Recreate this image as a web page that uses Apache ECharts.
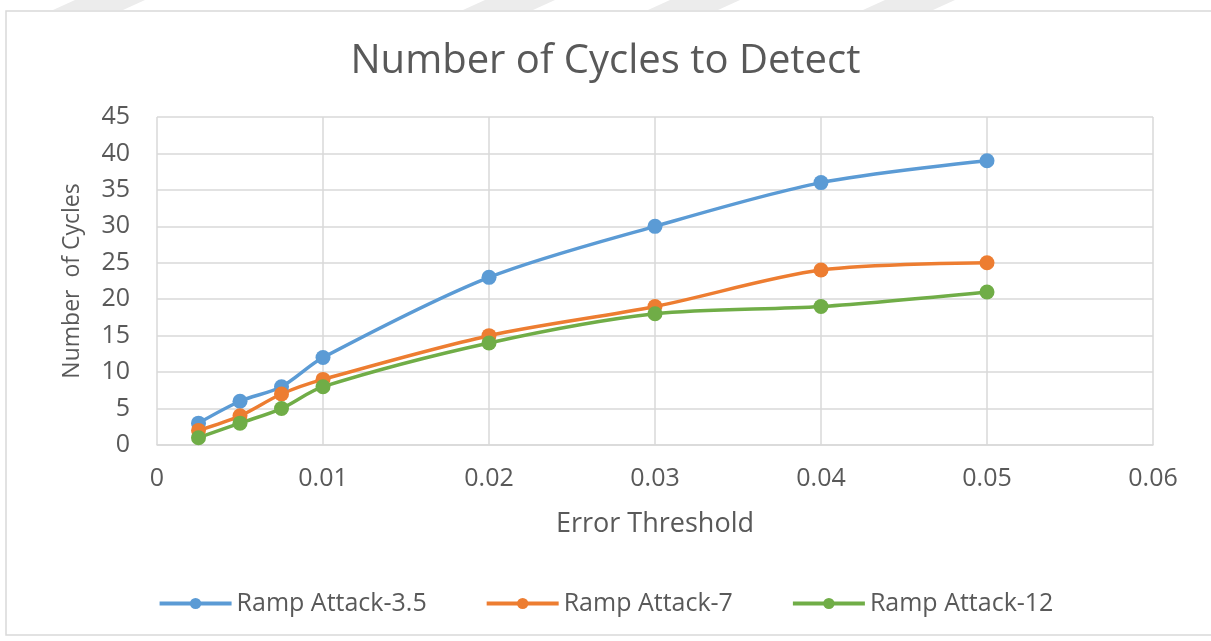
<!DOCTYPE html>
<html><head><meta charset="utf-8">
<script src="https://cdn.jsdelivr.net/npm/echarts@6/dist/echarts.min.js"></script>
<style>html,body{margin:0;padding:0;background:#fff}#c{width:1211px;height:641px}</style>
</head><body><div id="c"></div>
<script>
const xValues = [0.0025, 0.005, 0.0075, 0.01, 0.02, 0.03, 0.04, 0.05];
const ramp35 = [3, 6, 8, 12, 23, 30, 36, 39];
const ramp7 = [2, 4, 7, 9, 15, 19, 24, 25];
const ramp12 = [1, 3, 5, 8, 14, 18, 19, 21];
const seriesNames = ['Ramp Attack-3.5', 'Ramp Attack-7', 'Ramp Attack-12'];
const colors = ['#5B9BD5', '#ED7D31', '#70AD47'];
const pair = v => xValues.map((x, i) => [x, v[i]]);
const chart = echarts.init(document.getElementById('c'));
const font = 'Open Sans, Calibri, sans-serif';
const stripe = (x) => ({type:'polygon', silent:true, z:-1,
  shape:{points:[[x,0],[x+70,0],[x+48,10],[x-22,10]]}, style:{fill:'#ececec'}});
chart.setOption({
  animation: false,
  backgroundColor: '#fff',
  color: colors,
  graphic: [
    stripe(75), stripe(485), stripe(670), stripe(885),
    {type:'rect', shape:{x:6,y:11,width:1210,height:624}, style:{fill:'none', stroke:'#d9d9d9', lineWidth:1.5}}
  ],
  title: {text: 'Number of Cycles to Detect', left: 'center', top: 37,
    textStyle: {fontFamily: font, fontSize: 40, fontWeight: 'normal', color: '#595959'}},
  grid: {left: 157, right: 58, top: 117, bottom: 196},
  legend: {top: 586, left: 'center', itemGap: 58, itemWidth: 72, itemHeight: 14,
    lineStyle: {width: 4},
    textStyle: {fontFamily: font, fontSize: 25, color: '#595959'},
    data: seriesNames},
  xAxis: {type: 'value', min: 0, max: 0.06, interval: 0.01,
    name: 'Error Threshold', nameLocation: 'middle', nameGap: 66,
    nameTextStyle: {fontFamily: font, fontSize: 27, color: '#595959'},
    axisLine: {show: true, lineStyle: {color: '#d9d9d9', width: 1.5}},
    axisTick: {show: false},
    axisLabel: {fontFamily: font, fontSize: 25, color: '#595959', margin: 21},
    splitLine: {show: true, lineStyle: {color: '#d9d9d9', width: 1.5}}},
  yAxis: {type: 'value', min: 0, max: 45, interval: 5,
    name: 'Number  of Cycles', nameLocation: 'middle', nameGap: 73,
    nameTextStyle: {fontFamily: font, fontSize: 23, color: '#595959'},
    axisLine: {show: false}, axisTick: {show: false},
    axisLabel: {fontFamily: font, fontSize: 25, color: '#595959', margin: 27},
    splitLine: {show: true, lineStyle: {color: '#d9d9d9', width: 1.5}}},
  series: [ramp35, ramp7, ramp12].map((v, i) => ({
    name: seriesNames[i], type: 'line', data: pair(v), smooth: 0.3,
    symbol: 'circle', symbolSize: 15,
    lineStyle: {width: 3.5, color: colors[i]},
    itemStyle: {color: colors[i]}
  }))
});
</script></body></html>
